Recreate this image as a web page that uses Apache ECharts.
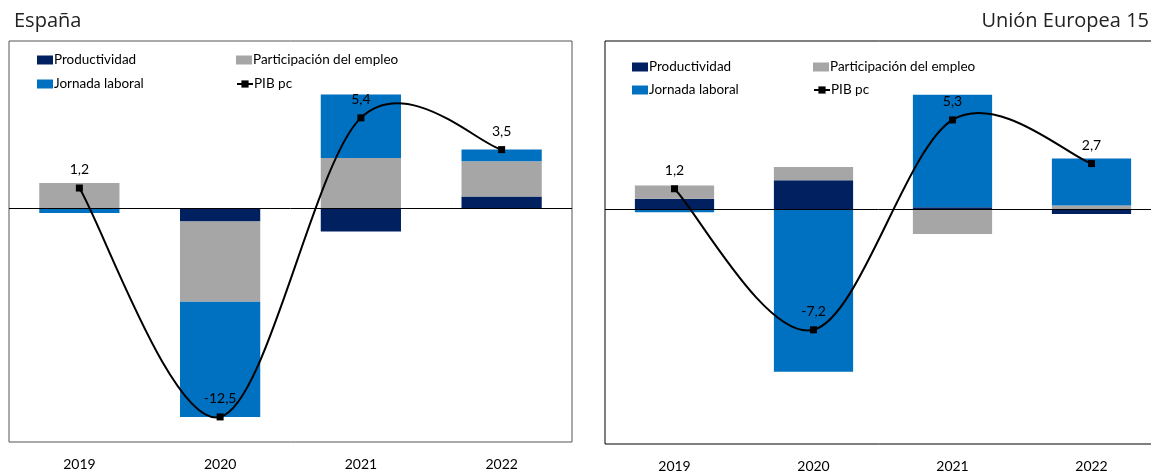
<!DOCTYPE html>
<html>
<head>
<meta charset="utf-8">
<script src="https://cdn.jsdelivr.net/npm/echarts@6/dist/echarts.min.js"></script>
<style>
  html, body { margin: 0; padding: 0; background: #fff; }
  #chart { width: 1151px; height: 474px; }
</style>
</head>
<body>
<div id="chart"></div>
<script>
// Contribuciones al crecimiento del PIB per cápita (puntos porcentuales)
const categories = ['2019', '2020', '2021', '2022'];

// España
const esProductividad = [0.0, -0.8, -1.4, 0.7];
const esParticipacion = [1.5, -4.8, 3.0, 2.1];
const esJornada = [-0.3, -6.9, 3.8, 0.7];
const esPib = [1.2, -12.5, 5.4, 3.5];

// Unión Europea 15
const ueProductividad = [0.6, 1.7, 0.1, -0.3];
const ueParticipacion = [0.8, 0.8, -1.5, 0.2];
const ueJornada = [-0.2, -9.7, 6.7, 2.8];
const uePib = [1.2, -7.2, 5.3, 2.7];

const C_PROD = '#002060';
const C_PART = '#A6A6A6';
const C_JORN = '#0070C0';
const FONT = "Lato, 'Liberation Sans', sans-serif";

const fmt = v => v.toFixed(1).replace('.', ',');

function barSeries(name, data, color, idx, stack) {
  return {
    name: name, type: 'bar', stack: stack, data: data,
    xAxisIndex: idx, yAxisIndex: idx,
    barWidth: '57%',
    itemStyle: { color: color },
    emphasis: { disabled: true },
    animation: false
  };
}

// Markers, value labels and the zero reference line for the PIB pc series.
// The polyline itself is hidden; the curve is drawn by curveSeries below.
function pibMarkers(data, idx) {
  return {
    name: 'PIB pc', type: 'line', data: data,
    xAxisIndex: idx, yAxisIndex: idx,
    symbol: 'rect', symbolSize: 7,
    lineStyle: { color: '#000', width: 2, opacity: 0 },
    itemStyle: { color: '#000' },
    label: {
      show: true, position: 'top', distance: 8,
      color: '#000', fontFamily: FONT, fontSize: 14,
      formatter: p => fmt(p.value)
    },
    emphasis: { disabled: true },
    z: 6,
    animation: false,
    markLine: {
      silent: true, symbol: 'none', animation: false,
      label: { show: false },
      lineStyle: { color: '#000', width: 1, type: 'solid' },
      data: [{ yAxis: 0 }]
    }
  };
}

// Smoothed curve through the PIB pc points (cardinal spline, tension 1/6),
// one Bezier segment per category interval, positioned through the axes.
function curveSeries(data, idx) {
  const n = data.length;
  return {
    type: 'custom', xAxisIndex: idx, yAxisIndex: idx,
    data: data.map((v, i) => [i, v]),
    encode: { x: 0, y: 1 },
    silent: true, z: 5, animation: false,
    renderItem: (params, api) => {
      const i = params.dataIndex;
      if (i >= n - 1) return null;
      const P = k => {
        const j = Math.max(0, Math.min(n - 1, k));
        return api.coord([j, data[j]]);
      };
      const p0 = P(i - 1), p1 = P(i), p2 = P(i + 1), p3 = P(i + 2);
      return {
        type: 'bezierCurve',
        shape: {
          x1: p1[0], y1: p1[1], x2: p2[0], y2: p2[1],
          cpx1: p1[0] + (p2[0] - p0[0]) / 6, cpy1: p1[1] + (p2[1] - p0[1]) / 6,
          cpx2: p2[0] - (p3[0] - p1[0]) / 6, cpy2: p2[1] - (p3[1] - p1[1]) / 6
        },
        style: { stroke: '#000', lineWidth: 2, fill: 'none' }
      };
    }
  };
}

function legendItem(name, left, top) {
  const lg = {
    data: [name], left: left, top: top, padding: 0,
    itemWidth: 16, itemHeight: 9, itemGap: 0,
    selectedMode: false,
    textStyle: { fontFamily: FONT, fontSize: 13.5, color: '#000', padding: [0, 0, 0, -4] }
  };
  if (name === 'PIB pc') {
    lg.lineStyle = { opacity: 1, color: '#000', width: 2 };
  } else {
    lg.icon = 'rect';
  }
  return lg;
}

function xAxis(idx) {
  return {
    type: 'category', data: categories, gridIndex: idx,
    axisLine: { show: false }, axisTick: { show: false },
    axisLabel: { color: '#000', fontFamily: FONT, fontSize: 14, margin: 15 }
  };
}

function yAxis(idx) {
  return {
    type: 'value', gridIndex: idx, min: -14, max: 10, interval: 2,
    show: false, splitLine: { show: false }
  };
}

const option = {
  backgroundColor: '#fff',
  title: [
    { text: 'España', left: 9, top: 6, textStyle: { fontFamily: "'Open Sans', sans-serif", fontSize: 20, fontWeight: 'normal', color: '#222' } },
    { text: 'Unión Europea 15', right: -3, top: 6, textStyle: { fontFamily: "'Open Sans', sans-serif", fontSize: 20, fontWeight: 'normal', color: '#222' } }
  ],
  grid: [
    { left: 9, top: 41, width: 563, height: 401, show: true, borderColor: '#555', borderWidth: 1, backgroundColor: '#fff', outerBoundsMode: 'none', containLabel: false },
    { left: 605, top: 41, width: 556, height: 403, show: true, borderColor: '#000', borderWidth: 1, backgroundColor: '#fff', outerBoundsMode: 'none', containLabel: false }
  ],
  legend: [
    legendItem('Productividad', 37, 53),
    legendItem('Participación del empleo', 236, 53),
    legendItem('Jornada laboral', 37, 77),
    legendItem('PIB pc', 236, 77),
    legendItem('Productividad', 632, 60),
    legendItem('Participación del empleo', 813, 60),
    legendItem('Jornada laboral', 632, 83),
    legendItem('PIB pc', 813, 83)
  ],
  xAxis: [xAxis(0), xAxis(1)],
  yAxis: [yAxis(0), yAxis(1)],
  series: [
    barSeries('Productividad', esProductividad, C_PROD, 0, 'es'),
    barSeries('Participación del empleo', esParticipacion, C_PART, 0, 'es'),
    barSeries('Jornada laboral', esJornada, C_JORN, 0, 'es'),
    pibMarkers(esPib, 0),
    curveSeries(esPib, 0),
    barSeries('Productividad', ueProductividad, C_PROD, 1, 'ue'),
    barSeries('Participación del empleo', ueParticipacion, C_PART, 1, 'ue'),
    barSeries('Jornada laboral', ueJornada, C_JORN, 1, 'ue'),
    pibMarkers(uePib, 1),
    curveSeries(uePib, 1)
  ]
};

const chart = echarts.init(document.getElementById('chart'), null, { renderer: 'canvas' });
chart.setOption(option);
</script>
</body>
</html>
